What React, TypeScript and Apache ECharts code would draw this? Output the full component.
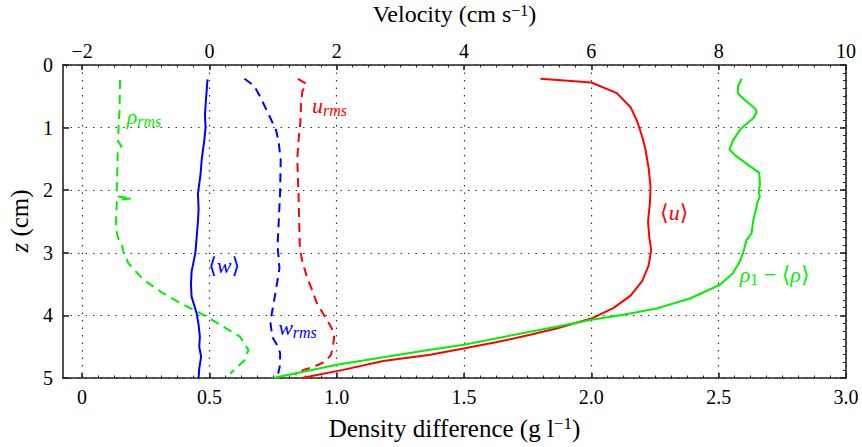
import React, { useEffect, useRef } from "react";
import * as echarts from "echarts";

// Axis tick positions
const velocityTicks = [-2, 0, 2, 4, 6, 8, 10];
const densityTicks = [0, 0.5, 1.0, 1.5, 2.0, 2.5, 3.0];

// Profiles: [value, z (cm)]
// velocities in cm/s (top axis)
const meanU: [number, number][] = [
  [5.2, 0.22], [6.0, 0.28], [6.4, 0.45], [6.62, 0.68], [6.72, 0.9], [6.8, 1.15],
  [6.85, 1.35], [6.9, 1.65], [6.93, 1.95], [6.92, 2.2], [6.89, 2.5], [6.91, 2.75],
  [6.94, 2.96], [6.9, 3.2], [6.8, 3.45], [6.62, 3.68], [6.35, 3.88], [6.0, 4.05],
  [5.45, 4.21], [5.04, 4.31], [4.5, 4.43], [3.99, 4.53], [3.47, 4.63], [2.73, 4.73],
  [2.1, 4.87], [1.45, 5.0],
];
const uRms: [number, number][] = [
  [1.39, 0.22], [1.52, 0.3], [1.46, 0.42], [1.44, 0.6], [1.43, 0.9], [1.4, 1.2],
  [1.38, 1.5], [1.39, 1.8], [1.4, 2.05], [1.41, 2.5], [1.42, 2.9], [1.45, 3.1],
  [1.53, 3.38], [1.61, 3.59], [1.69, 3.81], [1.78, 3.96], [1.92, 4.2], [1.96, 4.35],
  [1.94, 4.5], [1.91, 4.63], [1.82, 4.74], [1.64, 4.82], [1.48, 4.87], [1.35, 4.95],
];
const meanW: [number, number][] = [
  [-0.03, 0.23], [-0.05, 0.5], [-0.07, 0.8], [-0.06, 1.0], [-0.08, 1.2], [-0.12, 1.5],
  [-0.14, 1.75], [-0.18, 2.05], [-0.17, 2.3], [-0.18, 2.5], [-0.2, 2.75], [-0.22, 3.0],
  [-0.28, 3.3], [-0.29, 3.5], [-0.28, 3.7], [-0.2, 3.97], [-0.17, 4.15], [-0.15, 4.34],
  [-0.16, 4.5], [-0.13, 4.66], [-0.16, 4.85], [-0.17, 5.0],
];
const wRms: [number, number][] = [
  [0.55, 0.22], [0.7, 0.33], [0.8, 0.51], [0.95, 0.83], [1.05, 1.05], [1.09, 1.25],
  [1.12, 1.52], [1.11, 2.05], [1.09, 2.48], [1.07, 2.9], [1.09, 3.1], [1.1, 3.25],
  [1.06, 3.5], [1.01, 3.8], [0.98, 3.97], [0.96, 4.13], [0.99, 4.35], [1.06, 4.47],
  [1.11, 4.6], [1.11, 4.79], [1.08, 4.93],
];
// density differences in g/l (bottom axis)
const rhoMean: [number, number][] = [
  [2.59, 0.22], [2.576, 0.34], [2.575, 0.45], [2.6, 0.55], [2.642, 0.69], [2.649, 0.75],
  [2.636, 0.85], [2.6, 0.97], [2.583, 1.04], [2.557, 1.2], [2.542, 1.35], [2.564, 1.44],
  [2.623, 1.62], [2.659, 1.72], [2.662, 1.9], [2.657, 2.05], [2.662, 2.1], [2.652, 2.2],
  [2.647, 2.3], [2.636, 2.48], [2.629, 2.69], [2.609, 2.8], [2.596, 3.0], [2.583, 3.14],
  [2.555, 3.33], [2.505, 3.51], [2.387, 3.73], [2.256, 3.89], [2.125, 3.99], [2.0, 4.07],
  [1.877, 4.17], [1.76, 4.26], [1.5, 4.47], [1.366, 4.55], [1.0, 4.79], [0.751, 5.0],
];
const rhoRms: [number, number][] = [
  [0.149, 0.24], [0.147, 0.72], [0.143, 1.0], [0.141, 1.22], [0.155, 1.3], [0.14, 1.36],
  [0.139, 1.62], [0.136, 2.0], [0.137, 2.1], [0.195, 2.13], [0.137, 2.16], [0.134, 2.37],
  [0.133, 2.6], [0.14, 2.75], [0.156, 2.88], [0.162, 2.98], [0.182, 3.17], [0.241, 3.43],
  [0.319, 3.65], [0.398, 3.83], [0.476, 3.99], [0.555, 4.18], [0.62, 4.34], [0.653, 4.55],
  [0.64, 4.71], [0.581, 4.93],
];

const SERIF = "Liberation Serif, Times New Roman, DejaVu Serif, serif";
const RED = "#ff0000";
const GREEN = "#00f000";
const BLUE = "#0000ff";
const INK = "#222";

const velocityMinor: number[] = [];
for (let v = -2.25; v <= 10.001; v += 0.25) velocityMinor.push(Number(v.toFixed(3)));
const densityMinor: number[] = [];
for (let d = 0; d <= 3.0001; d += 0.0625) densityMinor.push(Number(d.toFixed(4)));

const richLabel = (color: string) => ({
  m: { fontFamily: SERIF, fontStyle: "italic", fontSize: 22, color },
  b: { fontFamily: SERIF, fontSize: 22, color },
  s: { fontFamily: SERIF, fontStyle: "italic", fontSize: 16, color, padding: [10, 0, 0, 0] },
  n: { fontFamily: SERIF, fontSize: 16, color, padding: [10, 0, 0, 0] },
});

const tag = (coord: [number, number], text: string, color: string) => ({
  symbol: "circle",
  symbolSize: 0,
  silent: true,
  label: {
    show: true,
    position: "right",
    distance: 0,
    formatter: text,
    rich: richLabel(color),
  },
  data: [{ coord }],
});

export default function App() {
  const ref = useRef<HTMLDivElement>(null);

  useEffect(() => {
    if (!ref.current) return;
    const chart = echarts.init(ref.current, undefined, { renderer: "svg" });

    const dotted = { show: true, lineStyle: { type: [1.5, 6], color: "#333", width: 1.2 } };
    const frame = { show: true, onZero: false, lineStyle: { color: INK, width: 1.6 } };
    const tickText = { fontFamily: SERIF, fontSize: 20, color: "#000" };
    const titleText = { fontFamily: SERIF, fontSize: 24, color: "#000" };
    const supText = { fontFamily: SERIF, fontSize: 16, color: "#000", padding: [0, 0, 8, 0] };

    chart.setOption({
      animation: false,
      backgroundColor: "#fff",
      grid: {
        left: 63,
        right: 16,
        top: 65,
        bottom: 69,
        containLabel: false,
        outerBoundsMode: "none",
      },
      graphic: [
        {
          type: "text",
          x: 19,
          y: 221,
          rotation: Math.PI / 2,
          silent: true,
          style: {
            text: "{i|z} {a|(cm)}",
            align: "center",
            verticalAlign: "middle",
            rich: {
              i: { fontFamily: SERIF, fontSize: 25, color: "#000", fontStyle: "italic" },
              a: { fontFamily: SERIF, fontSize: 25, color: "#000" },
            },
            font: "25px " + SERIF,
          },
        },
      ],
      xAxis: [
        {
          type: "value",
          position: "top",
          min: -2.3,
          max: 10,
          axisLine: frame,
          axisTick: { show: true, inside: true, length: 5, customValues: velocityTicks, lineStyle: { color: INK, width: 1.6 } },
          axisLabel: {
            ...tickText,
            margin: 4,
            customValues: velocityTicks,
            formatter: (v: number) => (v < 0 ? "\u2212" + Math.abs(v) : String(v)),
          },
          splitLine: dotted,
          name: "{a|Velocity (cm s}{p|\u22121}{a|)}",
          nameLocation: "middle",
          nameGap: 39,
          nameTextStyle: { rich: { a: titleText, p: supText } },
        },
        {
          type: "value",
          position: "bottom",
          min: -0.075,
          max: 3.0,
          axisLine: frame,
          axisTick: { show: true, inside: true, length: 5, customValues: densityTicks, lineStyle: { color: INK, width: 1.6 } },
          axisLabel: {
            ...tickText,
            margin: 9,
            customValues: densityTicks,
            formatter: (v: number) => (v === 0 ? "0" : v.toFixed(1)),
          },
          splitLine: { show: false },
          name: "{a|Density difference (g l}{p|\u22121}{a|)}",
          nameLocation: "middle",
          nameGap: 37,
          nameTextStyle: {
            rich: {
              a: { ...titleText, fontSize: 25 },
              p: { ...supText, fontSize: 17, padding: [0, 0, 9, 0] },
            },
          },
        },
        {
          type: "value",
          position: "top",
          min: -2.3,
          max: 10,
          axisLine: { show: false, onZero: false },
          axisTick: { show: true, inside: true, length: 2.5, customValues: velocityMinor, lineStyle: { color: INK, width: 1 } },
          axisLabel: { show: false },
          splitLine: { show: false },
        },
        {
          type: "value",
          position: "bottom",
          min: -0.075,
          max: 3.0,
          axisLine: { show: false, onZero: false },
          axisTick: { show: true, inside: true, length: 2.5, customValues: densityMinor, lineStyle: { color: INK, width: 1 } },
          axisLabel: { show: false },
          splitLine: { show: false },
        },
      ],
      yAxis: [
        {
          type: "value",
          position: "left",
          inverse: true,
          min: 0,
          max: 5,
          interval: 1,
          axisLine: frame,
          axisTick: { show: true, inside: true, length: 6, lineStyle: { color: INK, width: 1.6 } },
          axisLabel: { ...tickText, margin: 10 },
          splitLine: dotted,
        },
        {
          type: "value",
          position: "right",
          inverse: true,
          min: 0,
          max: 5,
          interval: 1,
          axisLine: frame,
          axisTick: { show: true, inside: true, length: 6, lineStyle: { color: INK, width: 1.6 } },
          minorTick: { show: true, splitNumber: 8, length: 3, lineStyle: { color: INK, width: 1 } },
          axisLabel: { show: false },
          splitLine: { show: false },
        },
      ],
      series: [
        {
          name: "<u>",
          type: "line",
          xAxisIndex: 0,
          yAxisIndex: 0,
          data: meanU,
          symbol: "none",
          lineStyle: { color: RED, width: 2 },
          markPoint: tag([7.08, 2.36], "{b|\u27e8}{m|u}{b|\u27e9}", RED),
        },
        {
          name: "u_rms",
          type: "line",
          xAxisIndex: 0,
          yAxisIndex: 0,
          data: uRms,
          symbol: "none",
          lineStyle: { color: RED, width: 2, type: [9, 6] },
          markPoint: tag([1.61, 0.64], "{m|u}{s|rms}", RED),
        },
        {
          name: "<w>",
          type: "line",
          xAxisIndex: 0,
          yAxisIndex: 0,
          data: meanW,
          symbol: "none",
          lineStyle: { color: BLUE, width: 2 },
          markPoint: tag([-0.02, 3.2], "{b|\u27e8}{m|w}{b|\u27e9}", BLUE),
        },
        {
          name: "w_rms",
          type: "line",
          xAxisIndex: 0,
          yAxisIndex: 0,
          data: wRms,
          symbol: "none",
          lineStyle: { color: BLUE, width: 2, type: [9, 6] },
          markPoint: tag([1.08, 4.19], "{m|w}{s|rms}", BLUE),
        },
        {
          name: "rho1-<rho>",
          type: "line",
          xAxisIndex: 1,
          yAxisIndex: 0,
          data: rhoMean,
          symbol: "none",
          lineStyle: { color: GREEN, width: 2 },
          markPoint: tag([2.583, 3.34], "{m|\u03c1}{n|1}{b| \u2212 \u27e8}{m|\u03c1}{b|\u27e9}", GREEN),
        },
        {
          name: "rho_rms",
          type: "line",
          xAxisIndex: 1,
          yAxisIndex: 0,
          data: rhoRms,
          symbol: "none",
          lineStyle: { color: GREEN, width: 2, type: [9, 6] },
          markPoint: tag([0.175, 0.82], "{m|\u03c1}{s|rms}", GREEN),
        },
      ],
    });

    return () => chart.dispose();
  }, []);

  return (
    <div
      ref={ref}
      style={{ position: "absolute", left: 0, top: 0, width: 862, height: 447, background: "#fff" }}
    />
  );
}
